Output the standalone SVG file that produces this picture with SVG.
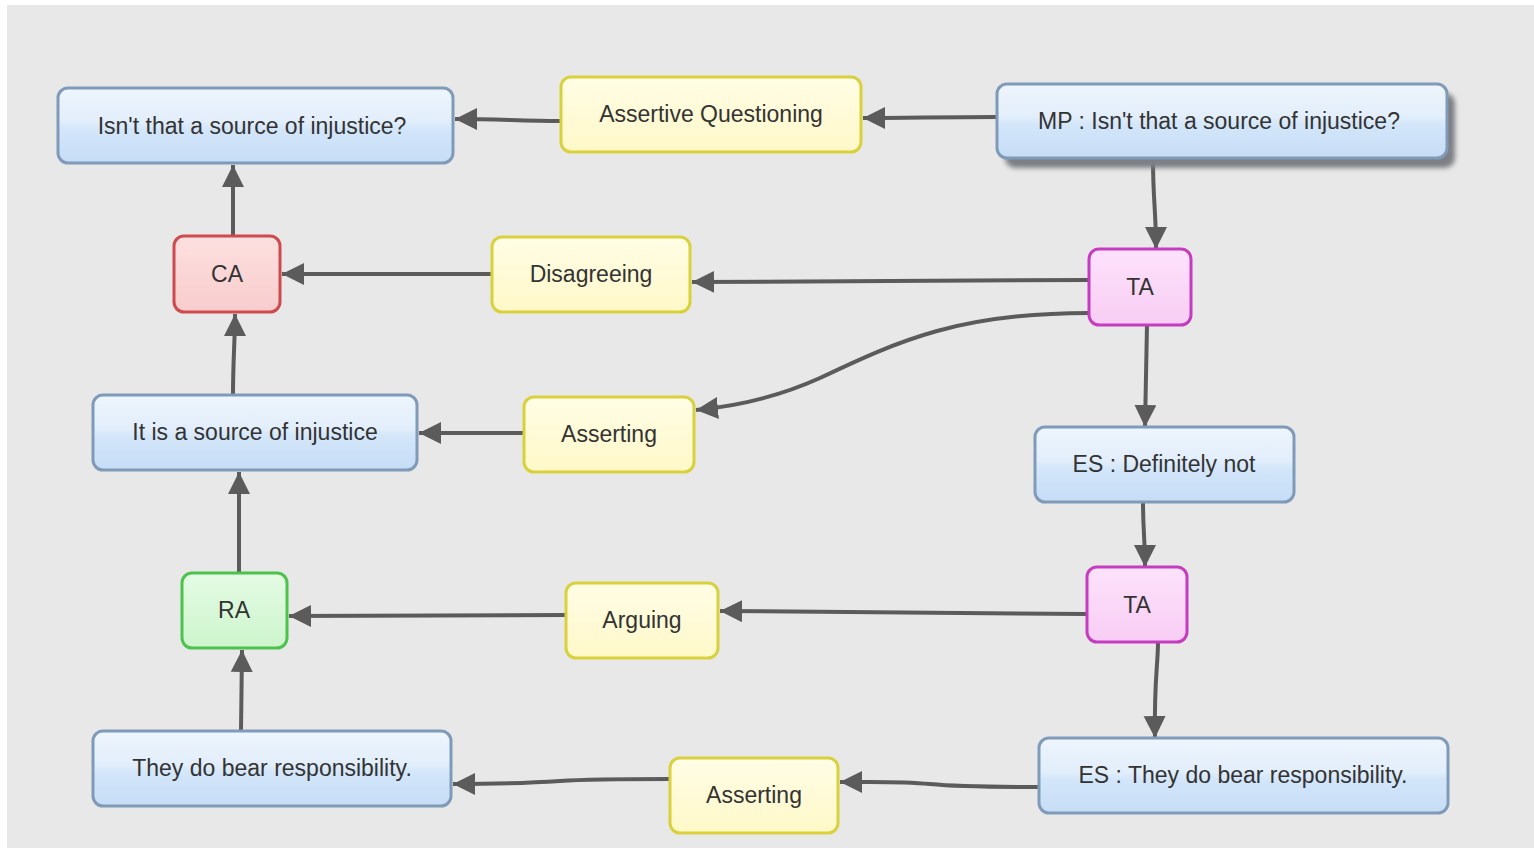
<svg xmlns="http://www.w3.org/2000/svg" width="1534" height="848" viewBox="0 0 1534 848">
  <defs>
    <linearGradient id="gBlue" x1="0" y1="0" x2="0" y2="1">
      <stop offset="0" stop-color="#eef5fd"/>
      <stop offset="0.45" stop-color="#e2eefb"/>
      <stop offset="0.55" stop-color="#d3e6fa"/>
      <stop offset="1" stop-color="#c6ddf6"/>
    </linearGradient>
    <linearGradient id="gYellow" x1="0" y1="0" x2="0" y2="1">
      <stop offset="0" stop-color="#fffde6"/>
      <stop offset="1" stop-color="#fff8c8"/>
    </linearGradient>
    <linearGradient id="gRed" x1="0" y1="0" x2="0" y2="1">
      <stop offset="0" stop-color="#fde0e0"/>
      <stop offset="1" stop-color="#f9cccc"/>
    </linearGradient>
    <linearGradient id="gPink" x1="0" y1="0" x2="0" y2="1">
      <stop offset="0" stop-color="#fde2fb"/>
      <stop offset="1" stop-color="#f8cdf4"/>
    </linearGradient>
    <linearGradient id="gGreen" x1="0" y1="0" x2="0" y2="1">
      <stop offset="0" stop-color="#e4fbe4"/>
      <stop offset="1" stop-color="#cdf5cd"/>
    </linearGradient>
    <filter id="soft" x="-10%" y="-30%" width="120%" height="160%">
      <feGaussianBlur stdDeviation="2.5"/>
    </filter>
    <marker id="arrow" markerUnits="userSpaceOnUse" markerWidth="24" markerHeight="24" refX="22" refY="11" orient="auto">
      <path d="M0,0 L22,11 L0,22 z" fill="#5b5b5b"/>
    </marker>
    <style>
      .box { stroke-width: 3; }
      .blue { fill: url(#gBlue); stroke: #7f9bb9; }
      .yellow { fill: url(#gYellow); stroke: #d9d13c; }
      .red { fill: url(#gRed); stroke: #cf4a4f; }
      .pink { fill: url(#gPink); stroke: #c63cc1; }
      .green { fill: url(#gGreen); stroke: #4cc34c; }
      .lbl { font-family: "Liberation Sans", Arial, Helvetica, sans-serif; font-size: 23px; fill: #333333; text-anchor: middle; }
      .edge { fill: none; stroke: #5b5b5b; stroke-width: 4; marker-end: url(#arrow); }
    </style>
  </defs>

  <!-- canvas -->
  <rect x="0" y="0" width="1534" height="848" fill="#ffffff"/>
  <rect x="7" y="5" width="1527" height="843" fill="#e8e8e8"/>

  <!-- connectors -->
  <g id="connectors">
    <path class="edge" d="M561,121 C520,121 500,119 455,119"/>
    <path class="edge" d="M997,117 C940,117 910,118 863,118"/>
    <path class="edge" d="M1153,160 C1153,200 1156,210 1156,249"/>
    <path class="edge" d="M1089,280 L692,282"/>
    <path class="edge" d="M492,274 L282,274"/>
    <path class="edge" d="M233,236 L233,165"/>
    <path class="edge" d="M1089,313 C960,313 900,340 820,378 C780,396 740,406 696,410"/>
    <path class="edge" d="M524,433 L419,433"/>
    <path class="edge" d="M233,395 C233,360 235,340 235,314"/>
    <path class="edge" d="M1147,325 L1145,427"/>
    <path class="edge" d="M1143,502 C1143,530 1145,540 1145,567"/>
    <path class="edge" d="M1087,614 L720,611"/>
    <path class="edge" d="M566,615 L289,616"/>
    <path class="edge" d="M241,731 L242,650"/>
    <path class="edge" d="M239,573 L239,472"/>
    <path class="edge" d="M1158,642 C1158,665 1154,680 1155,738"/>
    <path class="edge" d="M1039,787 C1000,787 960,787 930,784 C900,781 870,782 840,782"/>
    <path class="edge" d="M670,779 C620,779 590,779 560,781 C530,783 500,784 453,784"/>
  </g>

  <!-- nodes -->
  <g id="n-isnt">
    <rect class="box blue" x="58" y="88" width="395" height="75" rx="10"/>
    <text class="lbl" x="252" y="134">Isn't that a source of injustice?</text>
  </g>
  <g id="n-assertive-q">
    <rect class="box yellow" x="561" y="77" width="300" height="75" rx="10"/>
    <text class="lbl" x="711" y="122">Assertive Questioning</text>
  </g>
  <g id="n-mp">
    <rect x="1005" y="93" width="450" height="75" rx="10" fill="#7d7f84" filter="url(#soft)"/>
    <rect class="box blue" x="997" y="84" width="450" height="74" rx="10"/>
    <text class="lbl" x="1219" y="129">MP : Isn't that a source of injustice?</text>
  </g>
  <g id="n-ca">
    <rect class="box red" x="174" y="236" width="106" height="76" rx="10"/>
    <text class="lbl" x="227" y="282">CA</text>
  </g>
  <g id="n-disagreeing">
    <rect class="box yellow" x="492" y="237" width="198" height="75" rx="10"/>
    <text class="lbl" x="591" y="282">Disagreeing</text>
  </g>
  <g id="n-ta1">
    <rect class="box pink" x="1089" y="249" width="102" height="76" rx="10"/>
    <text class="lbl" x="1140" y="295">TA</text>
  </g>
  <g id="n-it-is">
    <rect class="box blue" x="93" y="395" width="324" height="75" rx="10"/>
    <text class="lbl" x="255" y="440">It is a source of injustice</text>
  </g>
  <g id="n-asserting1">
    <rect class="box yellow" x="524" y="397" width="170" height="75" rx="10"/>
    <text class="lbl" x="609" y="442">Asserting</text>
  </g>
  <g id="n-es-definitely">
    <rect class="box blue" x="1035" y="427" width="259" height="75" rx="10"/>
    <text class="lbl" x="1164" y="472">ES : Definitely not</text>
  </g>
  <g id="n-ra">
    <rect class="box green" x="182" y="573" width="105" height="75" rx="10"/>
    <text class="lbl" x="234" y="618">RA</text>
  </g>
  <g id="n-arguing">
    <rect class="box yellow" x="566" y="583" width="152" height="75" rx="10"/>
    <text class="lbl" x="642" y="628">Arguing</text>
  </g>
  <g id="n-ta2">
    <rect class="box pink" x="1087" y="567" width="100" height="75" rx="10"/>
    <text class="lbl" x="1137" y="613">TA</text>
  </g>
  <g id="n-they">
    <rect class="box blue" x="93" y="731" width="358" height="75" rx="10"/>
    <text class="lbl" x="272" y="776">They do bear responsibility.</text>
  </g>
  <g id="n-asserting2">
    <rect class="box yellow" x="670" y="758" width="168" height="75" rx="10"/>
    <text class="lbl" x="754" y="803">Asserting</text>
  </g>
  <g id="n-es-they">
    <rect class="box blue" x="1039" y="738" width="409" height="75" rx="10"/>
    <text class="lbl" x="1243" y="783">ES : They do bear responsibility.</text>
  </g>
</svg>
